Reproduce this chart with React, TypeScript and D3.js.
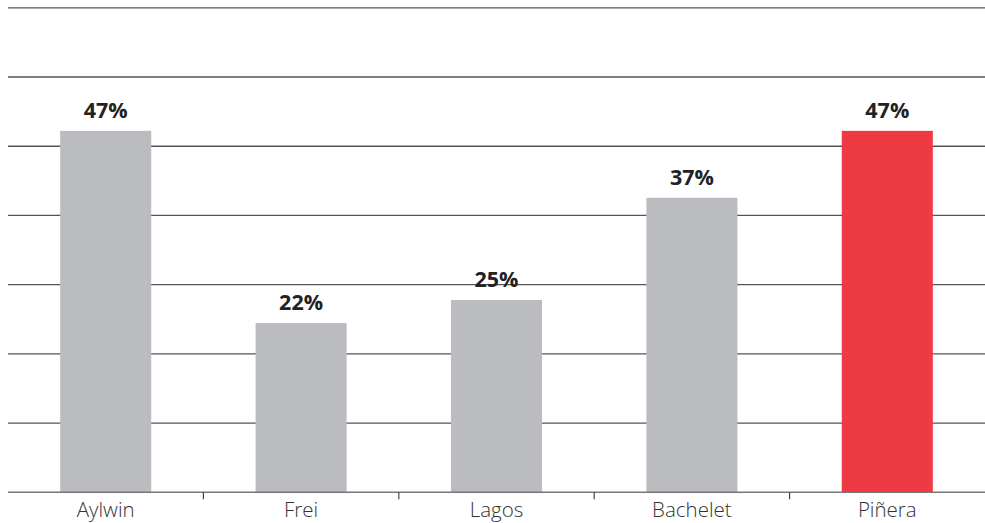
import React from "react";
import * as d3 from "d3";

const categories = ["Aylwin", "Frei", "Lagos", "Bachelet", "Piñera"];
const values = [47, 22, 25, 38.3, 47];
const valueLabels = ["47%", "22%", "25%", "37%", "47%"];
const colors = ["#bbbcbf", "#bbbcbf", "#bbbcbf", "#bbbcbf", "#ee3b43"];
const gridTicks = [0, 9, 18, 27, 36, 45, 54, 63];

const W = 985;
const H = 523;
const left = 8;
const right = 985;
const top = 7.8;
const bottom = 492.3;

export default function App() {
  const x = d3
    .scaleBand<string>()
    .domain(categories)
    .range([left, right])
    .paddingInner(0.534)
    .paddingOuter(0.267);
  const y = d3.scaleLinear().domain([0, 63]).range([bottom, top]);
  const step = x.step();
  const dividers = categories.slice(1).map((c) => (x(c) as number) - (step - x.bandwidth()) / 2);

  return (
    <svg
      width={W}
      height={H}
      style={{ position: "absolute", left: 0, top: 0, background: "#fff" }}
      fontFamily="'Open Sans', 'Noto Sans', sans-serif"
    >
      {gridTicks.slice(1).map((t) => (
        <line key={t} x1={left} x2={right} y1={y(t)} y2={y(t)} stroke="#555" strokeWidth={1.3} />
      ))}
      {categories.map((c, i) => (
        <rect
          key={c}
          x={x(c)}
          y={y(values[i])}
          width={x.bandwidth()}
          height={y(0) - y(values[i])}
          fill={colors[i]}
        />
      ))}
      <line x1={left} x2={right} y1={y(0)} y2={y(0)} stroke="#777" strokeWidth={1.5} />
      {dividers.map((d, i) => (
        <line key={i} x1={d} x2={d} y1={y(0)} y2={y(0) + 7} stroke="#444" strokeWidth={1.2} />
      ))}
      {categories.map((c, i) => (
        <text
          key={"v" + c}
          x={(x(c) as number) + x.bandwidth() / 2}
          y={y(values[i]) - 13}
          textAnchor="middle"
          fontSize={21.5}
          fontWeight={700}
          fill="#222"
        >
          {valueLabels[i]}
        </text>
      ))}
      {categories.map((c) => (
        <text
          key={"c" + c}
          x={(x(c) as number) + x.bandwidth() / 2}
          y={517}
          textAnchor="middle"
          fontSize={20.5}
          fontWeight={300}
          fill="#333"
        >
          {c}
        </text>
      ))}
    </svg>
  );
}
